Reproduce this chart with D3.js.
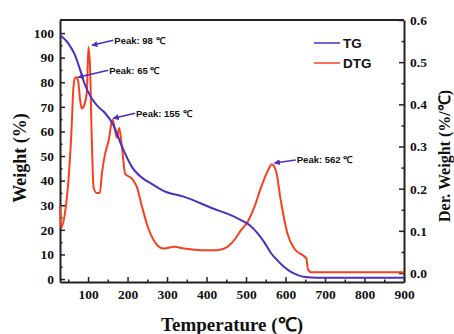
<!DOCTYPE html>
<html>
<head>
<meta charset="utf-8">
<script src="https://cdn.jsdelivr.net/npm/d3@7"></script>
<style>
  body { margin: 0; background: #fff; }
  svg text { fill: #111; }
  .tick text { font-family: "Liberation Serif", serif; font-weight: bold; font-size: 13.5px; }
  .domain { stroke: #222; stroke-width: 2px; }
  .tick line { stroke: #222; stroke-width: 1.5px; }
</style>
</head>
<body>
<div id="chart"></div>
<script>
// TG curve (left axis, weight %)
const tgTemp   = [29, 50, 67, 80, 92, 109, 126, 143, 164, 186, 211, 245, 258, 296, 342, 427, 454, 487, 510, 529, 546, 563, 580, 596, 615, 631, 650, 680, 900];
const tgWeight = [99.2, 95.8, 91, 85, 79, 73.5, 70, 67.5, 62.6, 53.8, 45.6, 40.2, 39, 35.5, 33.5, 28, 26.5, 24, 21.8, 18.7, 15, 10.6, 7.5, 5, 2.8, 1.6, 0.8, 0.5, 0.5];

// DTG curve (right axis, %/℃)
const dtgTemp  = [29, 32, 42, 50, 58, 63, 67, 71, 75, 80, 84, 91, 97, 101, 105, 109, 114, 122, 130, 135, 143, 152, 162, 168, 173, 179, 186, 194, 211, 224, 237, 253, 265, 275, 292, 317, 343, 385, 427, 453, 470, 487, 504, 521, 538, 555, 565, 576, 588, 605, 623, 644, 653, 657, 665, 900];
const dtgValue = [0.16, 0.108, 0.145, 0.215, 0.336, 0.44, 0.462, 0.464, 0.455, 0.41, 0.39, 0.40, 0.43, 0.536, 0.49, 0.336, 0.203, 0.19, 0.19, 0.235, 0.282, 0.313, 0.364, 0.34, 0.321, 0.344, 0.297, 0.235, 0.224, 0.203, 0.156, 0.105, 0.08, 0.066, 0.058, 0.062, 0.058, 0.054, 0.054, 0.062, 0.078, 0.101, 0.121, 0.156, 0.203, 0.242, 0.258, 0.242, 0.172, 0.093, 0.057, 0.042, 0.034, 0.008, 0.002, 0.002];

// peak annotations: arrow tip and tail in data units (temperature, DTG)
const peakLabels = ["Peak: 98 \u2103", "Peak: 65 \u2103", "Peak: 155 \u2103", "Peak: 562 \u2103"];
const peakTip    = [[110, 0.540], [75, 0.464], [164, 0.367], [572, 0.261]];
const peakTail   = [[164, 0.552], [151, 0.481], [219, 0.379], [626, 0.268]];

const legendNames = ["TG", "DTG"];
const colors = { TG: "#4a2fc2", DTG: "#f5421e" };

const W = 454, H = 334;
const margin = { top: 20, right: 50, bottom: 52, left: 60 };

const svg = d3.select("#chart").append("svg")
    .attr("width", W)
    .attr("height", H);

const x = d3.scaleLinear().domain([29, 900]).range([margin.left, W - margin.right]);
const yL = d3.scaleLinear().domain([-1.2, 105.3]).range([H - margin.bottom, margin.top]);
const yR = d3.scaleLinear().domain([-0.0213, 0.6]).range([H - margin.bottom, margin.top]);

// minor ticks
svg.append("g")
    .attr("transform", `translate(0,${H - margin.bottom})`)
    .call(d3.axisBottom(x).tickValues(d3.range(50, 900, 100)).tickSize(-2.5).tickFormat(""))
    .select(".domain").remove();
svg.append("g")
    .attr("transform", `translate(${margin.left},0)`)
    .call(d3.axisLeft(yL).tickValues(d3.range(5, 105, 10)).tickSize(-2.5).tickFormat(""))
    .select(".domain").remove();
svg.append("g")
    .attr("transform", `translate(${W - margin.right},0)`)
    .call(d3.axisRight(yR).tickValues(d3.range(0.05, 0.6, 0.1)).tickSize(-2.5).tickFormat(""))
    .select(".domain").remove();

// major axes
svg.append("g")
    .attr("transform", `translate(0,${H - margin.bottom})`)
    .call(d3.axisBottom(x).tickValues(d3.range(100, 901, 100)).tickSize(-5).tickSizeOuter(0).tickPadding(7));
svg.append("g")
    .attr("transform", `translate(${margin.left},0)`)
    .call(d3.axisLeft(yL).tickValues(d3.range(0, 101, 10)).tickSize(-5).tickSizeOuter(0).tickPadding(6));
svg.append("g")
    .attr("transform", `translate(${W - margin.right},0)`)
    .call(d3.axisRight(yR).tickValues(d3.range(0, 0.61, 0.1)).tickSize(-5).tickSizeOuter(0).tickPadding(6)
        .tickFormat(d3.format(".1f")));

// top frame line
svg.append("line")
    .attr("x1", margin.left).attr("x2", W - margin.right)
    .attr("y1", margin.top).attr("y2", margin.top)
    .attr("stroke", "#222").attr("stroke-width", 2);

// curves
const tgLine = d3.line()
    .x((d, i) => x(tgTemp[i]))
    .y(d => yL(d))
    .curve(d3.curveMonotoneX);
const dtgLine = d3.line()
    .x((d, i) => x(dtgTemp[i]))
    .y(d => yR(d))
    .curve(d3.curveMonotoneX);

svg.append("path")
    .attr("d", dtgLine(dtgValue))
    .attr("fill", "none")
    .attr("stroke", colors.DTG)
    .attr("stroke-width", 2);
svg.append("path")
    .attr("d", tgLine(tgWeight))
    .attr("fill", "none")
    .attr("stroke", colors.TG)
    .attr("stroke-width", 2);

// arrowhead
svg.append("defs").append("marker")
    .attr("id", "arrow")
    .attr("viewBox", "0 0 10 10")
    .attr("refX", 9).attr("refY", 5)
    .attr("markerWidth", 6).attr("markerHeight", 6)
    .attr("markerUnits", "userSpaceOnUse")
    .attr("orient", "auto")
    .append("path")
    .attr("d", "M0,0 L10,5 L0,10 z")
    .attr("fill", colors.TG);

const ann = svg.append("g");
peakLabels.forEach((label, i) => {
    const tip = peakTip[i], tail = peakTail[i];
    ann.append("line")
        .attr("x1", x(tail[0])).attr("y1", yR(tail[1]))
        .attr("x2", x(tip[0])).attr("y2", yR(tip[1]))
        .attr("stroke", colors.TG)
        .attr("stroke-width", 1.5)
        .attr("marker-end", "url(#arrow)");
    ann.append("text")
        .attr("x", x(tail[0]) + 1)
        .attr("y", yR(tail[1]))
        .attr("dy", "0.35em")
        .style("font-family", "Liberation Sans, Arial, sans-serif")
        .style("font-weight", "bold")
        .style("font-size", "9.5px")
        .text(label);
});

// legend
const legend = svg.append("g");
legendNames.forEach((name, i) => {
    const ly = 43 + i * 20;
    legend.append("line")
        .attr("x1", 314).attr("x2", 340)
        .attr("y1", ly).attr("y2", ly)
        .attr("stroke", colors[name])
        .attr("stroke-width", 1.5);
    legend.append("text")
        .attr("x", 343).attr("y", ly)
        .attr("dy", "0.35em")
        .style("font-family", "Liberation Sans, Arial, sans-serif")
        .style("font-weight", "bold")
        .style("font-size", "13.5px")
        .text(name);
});

// axis titles
svg.append("text")
    .attr("x", (margin.left + W - margin.right) / 2)
    .attr("y", 324)
    .attr("dy", "0.35em")
    .attr("text-anchor", "middle")
    .style("font-family", "Liberation Serif, serif")
    .style("font-weight", "bold")
    .style("font-size", "19px")
    .text("Temperature (\u2103)");

svg.append("text")
    .attr("transform", `translate(20,158) rotate(-90)`)
    .attr("text-anchor", "middle")
    .attr("dy", "0.35em")
    .style("font-family", "Liberation Serif, serif")
    .style("font-weight", "bold")
    .style("font-size", "18px")
    .text("Weight (%)");

svg.append("text")
    .attr("transform", `translate(444,${(margin.top + H - margin.bottom) / 2 + 5}) rotate(-90)`)
    .attr("text-anchor", "middle")
    .attr("dy", "0.35em")
    .style("font-family", "Liberation Serif, serif")
    .style("font-weight", "bold")
    .style("font-size", "16px")
    .text("Der. Weight (%/\u2103)");
</script>
</body>
</html>
